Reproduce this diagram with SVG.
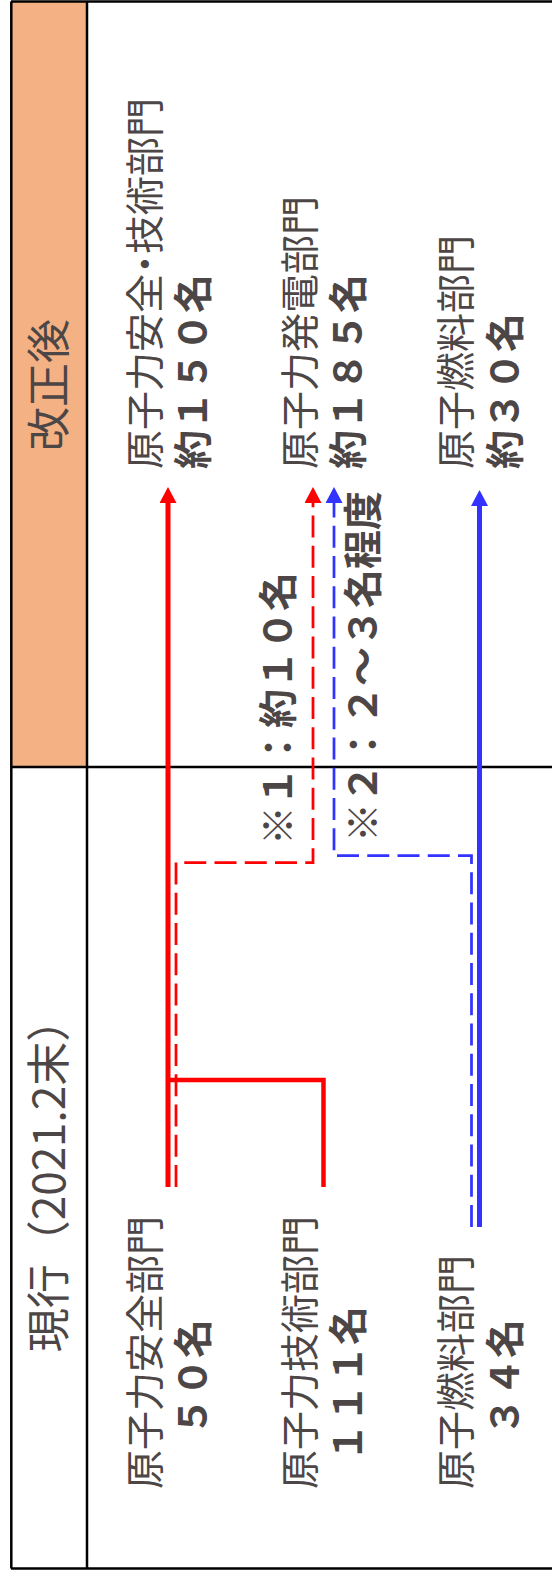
<svg xmlns="http://www.w3.org/2000/svg" width="552" height="1570" viewBox="0 0 552 1570">
<defs>
<style>
.t{font-family:"Noto Sans CJK JP","Noto Sans CJK SC",sans-serif;fill:#4D4646}
.r{font-size:39px}
.b{font-size:39px;font-weight:bold}
.h{font-size:44px;text-anchor:middle}
.frame{stroke:#000;stroke-width:2.5;fill:none}
.red{stroke:#FF0000;fill:none}
.blue{stroke:#3333FF;fill:none}
.dash{stroke-width:2.75;stroke-dasharray:22 8.25}
</style>
<marker id="ar" markerUnits="userSpaceOnUse" markerWidth="16" markerHeight="17" viewBox="0 0 16 17" refX="0" refY="8.5" orient="auto">
<path d="M0,0 L16,8.5 L0,17 z" fill="#FF0000"/>
</marker>
<marker id="ab" markerUnits="userSpaceOnUse" markerWidth="16" markerHeight="17" viewBox="0 0 16 17" refX="0" refY="8.5" orient="auto">
<path d="M0,0 L16,8.5 L0,17 z" fill="#3333FF"/>
</marker>
</defs>
<rect width="552" height="1570" fill="#fff"/>
<g id="header-after">
<rect x="11" y="1.5" width="76" height="765.5" fill="#F4B183"/>
<text class="t h" transform="translate(64.5,385) rotate(-90)">改正後</text>
</g>
<g id="header-current">
<text class="t h" transform="translate(64.5,1175) rotate(-90)">現行（2021.2末）</text>
</g>
<g id="frame">
<path class="frame" d="M11.3,1.5 V1568.5 M11,1.5 H552 M11,1568.5 H552 M87,1.5 V1568.5 M11,767 H552"/>
</g>
<g id="connectors">
<path class="red" stroke-width="5" d="M168,1187 V503" marker-end="url(#ar)"/>
<path class="red" stroke-width="4.5" d="M166,1080 H323.5 V1187"/>
<path class="red dash" d="M176,1187 V862.5 H313 V503" marker-end="url(#ar)"/>
<path class="blue dash" d="M471.5,1227 V855.5 H334 V503" marker-end="url(#ab)"/>
<path class="blue" stroke-width="5" d="M479.5,1227 V506" marker-end="url(#ab)"/>
</g>
<g id="after-safety-tech">
<text class="t r" transform="translate(159,469) rotate(-90)">原子力安全<tspan dx="-9.5">・</tspan><tspan dx="-9.5">技術部門</tspan></text>
<text class="t b" transform="translate(207,469) rotate(-90)">約１５０名</text>
</g>
<g id="after-power">
<text class="t r" transform="translate(314,469) rotate(-90)">原子力発電部門</text>
<text class="t b" transform="translate(362,469) rotate(-90)">約１８５名</text>
</g>
<g id="after-fuel">
<text class="t r" transform="translate(470,469) rotate(-90)">原子燃料部門</text>
<text class="t b" transform="translate(519,469) rotate(-90)">約３０名</text>
</g>
<g id="current-safety">
<text class="t r" transform="translate(159,1489) rotate(-90)">原子力安全部門</text>
<text class="t b" transform="translate(207,1436) rotate(-90)">５０名</text>
</g>
<g id="current-tech">
<text class="t r" transform="translate(314,1489) rotate(-90)">原子力技術部門</text>
<text class="t b" transform="translate(362,1462) rotate(-90)">１１１名</text>
</g>
<g id="current-fuel">
<text class="t r" transform="translate(470,1489) rotate(-90)">原子燃料部門</text>
<text class="t b" transform="translate(519,1436) rotate(-90)">３４名</text>
</g>
<g id="note1">
<text class="t b" transform="translate(292,845) rotate(-90)">※１：約１０名</text>
</g>
<g id="note2">
<text class="t b" transform="translate(377,842) rotate(-90)">※２：２～３名程度</text>
</g>
</svg>
